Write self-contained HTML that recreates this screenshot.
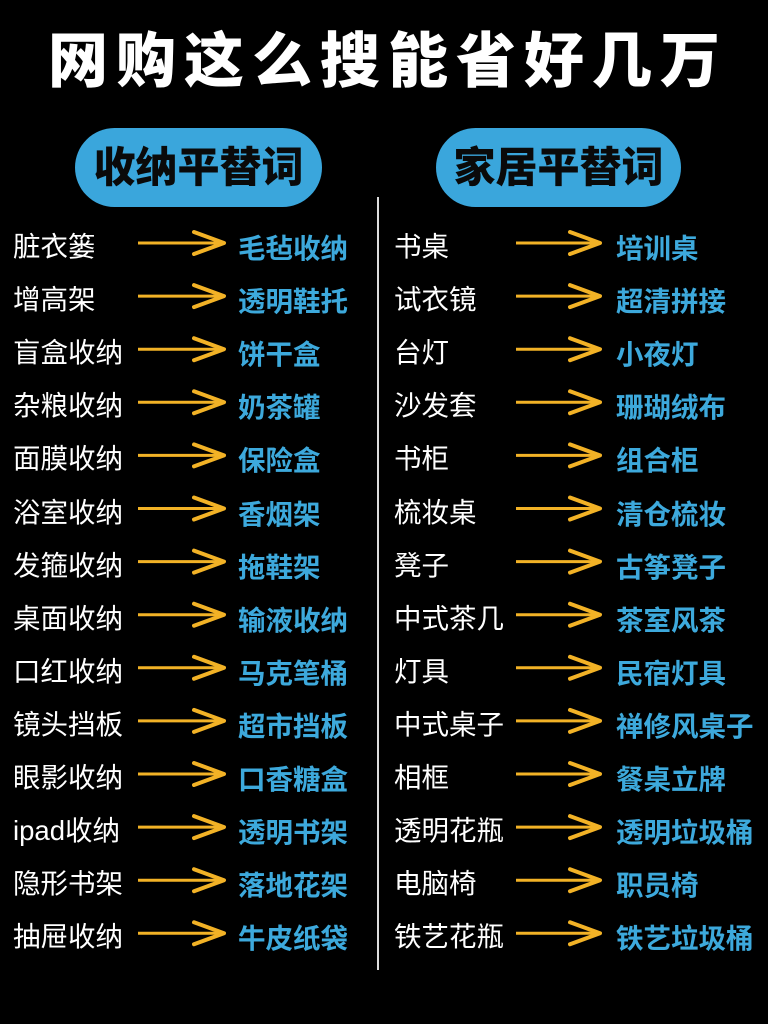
<!DOCTYPE html>
<html><head><meta charset="utf-8"><style>
body{margin:0;width:768px;height:1024px;background:#000;position:relative;overflow:hidden;font-family:"Liberation Sans","Noto Sans CJK SC",sans-serif}
.t{position:absolute;left:0;width:768px;top:22px;text-align:center;color:#fff;font-size:60px;font-weight:900;letter-spacing:8px;line-height:80px;text-indent:8px}
.pill{position:absolute;top:128px;height:79px;border-radius:40px;background:#3aa6dc;color:#0a0a0a;font-weight:900;font-size:42px;line-height:79px;text-align:center}
.div{position:absolute;left:377px;top:197px;width:2px;height:773px;background:#ddd}
.r{position:absolute;font-size:27.5px;line-height:34px;white-space:nowrap}
.w{color:#fff}
.b{color:#3da9dc;font-weight:bold}
svg{position:absolute;left:0;top:0}
</style></head><body>
<div class="t">网购这么搜能省好几万</div>
<div class="pill" style="left:75px;width:247px">收纳平替词</div>
<div class="pill" style="left:436px;width:245px">家居平替词</div>
<div class="div"></div>
<div id="c"></div>
<script>
var L=[["脏衣篓","毛毡收纳"],["增高架","透明鞋托"],["盲盒收纳","饼干盒"],["杂粮收纳","奶茶罐"],["面膜收纳","保险盒"],["浴室收纳","香烟架"],["发箍收纳","拖鞋架"],["桌面收纳","输液收纳"],["口红收纳","马克笔桶"],["镜头挡板","超市挡板"],["眼影收纳","口香糖盒"],["ipad收纳","透明书架"],["隐形书架","落地花架"],["抽屉收纳","牛皮纸袋"]];
var R=[["书桌","培训桌"],["试衣镜","超清拼接"],["台灯","小夜灯"],["沙发套","珊瑚绒布"],["书柜","组合柜"],["梳妆桌","清仓梳妆"],["凳子","古筝凳子"],["中式茶几","茶室风茶"],["灯具","民宿灯具"],["中式桌子","禅修风桌子"],["相框","餐桌立牌"],["透明花瓶","透明垃圾桶"],["电脑椅","职员椅"],["铁艺花瓶","铁艺垃圾桶"]];
var h="",s='<svg width="768" height="1024">';
for(var i=0;i<14;i++){var y=247+i*53.1;
h+='<div class="r w" style="left:13px;top:'+(y-17)+'px">'+L[i][0]+'</div><div class="r b" style="left:238px;top:'+(y-15)+'px">'+L[i][1]+'</div>';
h+='<div class="r w" style="left:394px;top:'+(y-17)+'px">'+R[i][0]+'</div><div class="r b" style="left:616px;top:'+(y-15)+'px">'+R[i][1]+'</div>';
[[138,224],[516,600]].forEach(function(a){s+='<line x1="'+a[0]+'" y1="'+(y-4)+'" x2="'+(a[1]-2)+'" y2="'+(y-4)+'" stroke="#f2b226" stroke-width="3"/><polyline points="'+(a[1]-30)+','+(y-15)+' '+a[1]+','+(y-4)+' '+(a[1]-30)+','+(y+7)+'" fill="none" stroke="#f2b226" stroke-width="4" stroke-linejoin="round" stroke-linecap="round"/>';});}
document.getElementById("c").innerHTML=h+s+'</svg>';
</script>
</body></html>
